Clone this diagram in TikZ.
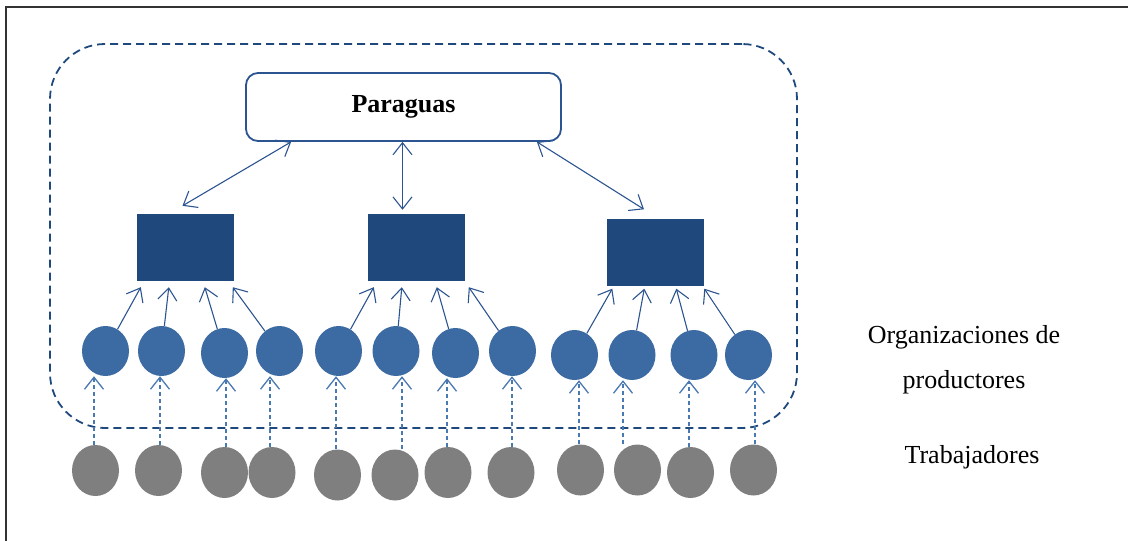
\documentclass[tikz,border=0pt]{standalone}
\usepackage{fontspec}
\setmainfont{Liberation Serif}
\usetikzlibrary{arrows.meta,shapes.geometric}
\definecolor{navy}{HTML}{1F497D}
\definecolor{orgblue}{HTML}{3C6AA2}
\definecolor{linkblue}{HTML}{2C5490}
\definecolor{lightlink}{HTML}{4A78B0}
\definecolor{workergray}{HTML}{7F7F7F}
\definecolor{framegray}{HTML}{333333}
\begin{document}
\begin{tikzpicture}[x=1pt,y=-1pt,
  barb/.tip={Straight Barb[length=12pt,width=19pt]},
  labeltext/.style={font=\fontsize{26}{30}\selectfont, inner sep=0pt},
  umbrella/.style={draw=linkblue, line width=1.8pt, fill=white, rounded corners=12pt,
    minimum width=315pt, minimum height=68pt, inner sep=0pt,
    font=\fontsize{26}{30}\selectfont\bfseries},
  groupbox/.style={draw=navy, line width=1.8pt, dash pattern=on 8pt off 5pt,
    rounded corners=55pt, minimum width=747pt, minimum height=384pt, inner sep=0pt},
  federation/.style={fill=navy, draw=none, minimum width=97pt, minimum height=67pt, inner sep=0pt},
  org/.style={ellipse, fill=orgblue, draw=none, minimum width=47pt, minimum height=50pt, inner sep=0pt},
  worker/.style={ellipse, fill=workergray, draw=none, minimum width=47pt, minimum height=51pt, inner sep=0pt},
  link/.style={draw=linkblue, line width=1.1pt, -barb},
  duallink/.style={draw=linkblue, line width=1.1pt, barb-barb},
  joinlink/.style={draw=lightlink, line width=1.3pt, dash pattern=on 4pt off 3pt, -barb}
]
\useasboundingbox (0,0) rectangle (1128,541);

% page frame
\draw[framegray, line width=1.5pt] (6,545) -- (6,7) -- (1132,7);

% dashed boundary of the umbrella organisation
\node[groupbox] (grp) at (423.5,236) {};

% umbrella body
\node[umbrella] (P) at (403.5,107) {Paraguas};

% second-level organisations
\node[federation] (r1) at (185.5,247.5) {};
\node[federation] (r2) at (416.5,247.5) {};
\node[federation] (r3) at (655,252) {};

% producer organisations
\foreach \i/\x/\y in {1/105.5/351, 2/161.5/351, 3/224.5/353, 4/279.5/351,
                      5/338.5/351, 6/396/351, 7/455.5/353, 8/512.5/351,
                      9/574.5/355, 10/632/355, 11/694/355, 12/748.5/355}
  \node[org] (c\i) at (\x,\y) {};

% workers
\foreach \i/\x/\y in {1/95.5/470.5, 2/158.5/470.5, 3/224.5/472.5, 4/272/472.5,
                      5/337.5/475, 6/395/475, 7/448/472.5, 8/511/472.5,
                      9/580.5/470, 10/637.5/470, 11/690.5/472.5, 12/753.5/470}
  \node[worker] (g\i) at (\x,\y) {};

% umbrella <-> second level
\draw[duallink] ([xshift=46pt]P.south west) -- ([xshift=-3pt,yshift=8pt]r1.north);
\draw[duallink] ([xshift=-1pt]P.south) -- ([xshift=-14pt,yshift=4pt]r2.north);
\draw[duallink] ([xshift=-25pt]P.south east) -- ([xshift=-11pt,yshift=9pt]r3.north);

% producer organisations -> second level
\foreach \i/\dx in {1/4, 2/32, 3/68, 4/96}
  \draw[link] (c\i) -- ([xshift=\dx pt,yshift=-6pt]r1.south west);
\foreach \i/\dx in {5/6, 6/34, 7/69, 8/101}
  \draw[link] (c\i) -- ([xshift=\dx pt,yshift=-6pt]r2.south west);
\foreach \i/\dx in {9/6, 10/38, 11/70, 12/98}
  \draw[link] (c\i) -- ([xshift=\dx pt,yshift=-3pt]r3.south west);

% workers -> producer organisations
\foreach \i/\x in {1/94, 2/160, 3/226, 4/270, 5/336, 6/402,
                   7/447, 8/512, 9/579, 10/623, 11/689, 12/755}
  \draw[joinlink] (\x,0 |- g\i.north) -- (\x,0 |- c\i.south);

% level labels
\node[labeltext, anchor=base] (lorg1) at (964,343) {Organizaciones de};
\node[labeltext, anchor=base] (lorg2) at (964,388) {productores};
\node[labeltext, anchor=base] (lwork) at (972,463) {Trabajadores};
\end{tikzpicture}
\end{document}
